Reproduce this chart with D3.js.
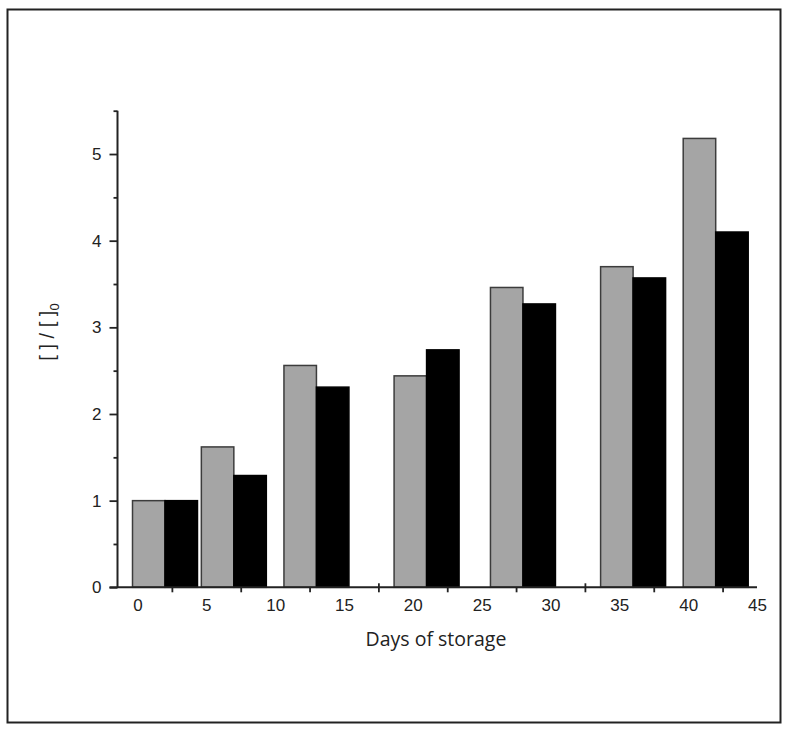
<!DOCTYPE html>
<html>
<head>
<meta charset="utf-8">
<script src="https://cdn.jsdelivr.net/npm/d3@7"></script>
<style>
  html, body { margin: 0; padding: 0; background: #fff; }
  svg { display: block; }
</style>
</head>
<body>
<svg id="chart" width="787" height="732"></svg>
<script>
// ---- data ----
const days = [2, 7, 13, 21, 28, 36, 42];
const grayValues = [1.00, 1.62, 2.56, 2.44, 3.46, 3.70, 5.18];
const blackValues = [1.00, 1.29, 2.31, 2.74, 3.27, 3.57, 4.10];
const xTickLabels = [0, 5, 10, 15, 20, 25, 30, 35, 40, 45];
const xTickMarks = [2.5, 7.5, 12.5, 17.5, 22.5, 27.5, 32.5, 37.5, 42.5];
const yMajorTicks = [0, 1, 2, 3, 4, 5];
const yMinorTicks = [0.5, 1.5, 2.5, 3.5, 4.5, 5.5];
const xTitle = "Days of storage";

// ---- layout ----
const svg = d3.select("#chart");
const plotLeft = 117.5, plotRight = 757, plotTop = 110.7, plotBottom = 587.3;
const x = d3.scaleLinear().domain([-1.45, 45]).range([plotLeft, plotRight]);
const y = d3.scaleLinear().domain([0, 5.5]).range([plotBottom, plotTop]);
const barW = 2.36; // in days units

// frame
svg.append("rect")
  .attr("x", 7.5).attr("y", 9.5).attr("width", 773).attr("height", 713)
  .attr("fill", "none").attr("stroke", "#222").attr("stroke-width", 2);

const font = "'Liberation Sans', Arial, sans-serif";

// y axis major
const yMaj = svg.append("g").attr("transform", `translate(${plotLeft},0)`)
  .call(d3.axisLeft(y).tickValues(yMajorTicks).tickSize(8).tickPadding(8).tickFormat(d3.format("d")));
yMaj.select(".domain").remove();
yMaj.selectAll("line").attr("stroke", "#222").attr("stroke-width", 1.8);
yMaj.selectAll("text").attr("font-family", font).attr("font-size", 17).attr("fill", "#222");

// y axis minor
const yMin = svg.append("g").attr("transform", `translate(${plotLeft},0)`)
  .call(d3.axisLeft(y).tickValues(yMinorTicks).tickSize(4).tickFormat(""));
yMin.select(".domain").remove();
yMin.selectAll("line").attr("stroke", "#222").attr("stroke-width", 1.8);

// x tick marks (crossing)
const xMarks = svg.append("g").attr("transform", `translate(0,${plotBottom})`)
  .call(d3.axisBottom(x).tickValues(xTickMarks).tickSize(5).tickFormat(""));
xMarks.select(".domain").remove();
xMarks.selectAll("line").attr("y1", -4).attr("stroke", "#222").attr("stroke-width", 1.8);

// x labels
const xLab = svg.append("g").attr("transform", `translate(0,${plotBottom})`)
  .call(d3.axisBottom(x).tickValues(xTickLabels).tickSize(0).tickPadding(12).tickFormat(d3.format("d")));
xLab.select(".domain").remove();
xLab.selectAll("text").attr("font-family", font).attr("font-size", 17).attr("fill", "#222");

// bars
const bars = svg.append("g");
bars.selectAll("rect.gray").data(days).join("rect")
  .attr("class", "gray")
  .attr("x", (d) => x(d - barW))
  .attr("width", (d) => x(d) - x(d - barW))
  .attr("y", (d, i) => y(grayValues[i]))
  .attr("height", (d, i) => y(0) - y(grayValues[i]))
  .attr("fill", "#a5a5a5").attr("stroke", "#3c3c3c").attr("stroke-width", 1.5);
bars.selectAll("rect.black").data(days).join("rect")
  .attr("class", "black")
  .attr("x", (d) => x(d))
  .attr("width", (d) => x(d + barW) - x(d))
  .attr("y", (d, i) => y(blackValues[i]))
  .attr("height", (d, i) => y(0) - y(blackValues[i]))
  .attr("fill", "#000").attr("stroke", "#000").attr("stroke-width", 1.5);

// axis lines
svg.append("line").attr("x1", plotLeft).attr("x2", plotLeft).attr("y1", y(5.5)).attr("y2", y(0))
  .attr("stroke", "#222").attr("stroke-width", 2);
svg.append("line").attr("x1", plotLeft - 8).attr("x2", plotRight).attr("y1", y(0)).attr("y2", y(0))
  .attr("stroke", "#222").attr("stroke-width", 2);

// x title
svg.append("text").attr("x", 436).attr("y", 646)
  .attr("text-anchor", "middle").attr("font-family", "'Open Sans', 'Segoe UI', sans-serif")
  .attr("font-size", 19.5).attr("fill", "#222").text(xTitle);

// y title
const yt = svg.append("text")
  .attr("transform", "translate(54,332) rotate(-90)")
  .attr("text-anchor", "middle").attr("font-family", font)
  .attr("font-size", 20).attr("fill", "#222");
yt.append("tspan").text("[ ] / [ ]");
yt.append("tspan").attr("font-size", 13).attr("dy", 5).text("0");
</script>
</body>
</html>
